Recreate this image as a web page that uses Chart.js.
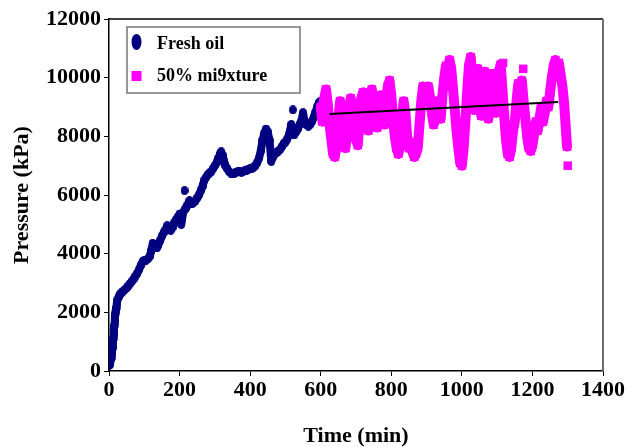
<!DOCTYPE html>
<html><head><meta charset="utf-8">
<script src="https://cdn.jsdelivr.net/npm/chart.js@4"></script>
<style>html,body{margin:0;padding:0;background:#fff}canvas{display:block}</style>
</head><body>
<canvas id="c" width="629" height="447"></canvas>
<script>
// ---- data ----
const freshTime=[0,2,4,6,8,10,11,12,13,14,15,16,17,18,19,20,22,24,27,30,35,40,45,50,55,60,65,70,75,80,85,90,95,100,105,110,115,120,124,128,132,136,140,145,150,155,160,165,170,175,180,185,190,195,200,205,210,214,218,222,228,235,240,245,250,255,260,265,270,275,280,285,290,295,300,305,310,315,318,322,326,330,335,340,345,350,355,360,365,370,375,380,385,390,395,400,405,410,415,420,425,430,435,440,445,450,455,460,465,470,475,480,485,490,495,500,505,510,515,517,520,525,530,535,540,545,550,555,560,565,570,575,580,585,590,595,600];
const freshP=[200,220,300,440,600,800,950,1100,1250,1400,1550,1700,1850,1950,2050,2150,2300,2420,2520,2600,2660,2720,2780,2830,2900,2980,3060,3140,3230,3330,3450,3600,3720,3770,3780,3820,3900,4100,4350,4300,4200,4200,4300,4450,4600,4720,4800,4950,4900,4800,4900,5050,5150,5250,5350,5000,5400,5500,5550,5650,5800,5700,5750,5800,5900,6000,6150,6300,6500,6600,6700,6750,6800,6900,7000,7100,7250,7400,7470,7350,7150,7000,6900,6800,6750,6720,6750,6780,6800,6800,6780,6800,6820,6850,6880,6900,6920,6950,7000,7100,7250,7500,7850,8100,8250,8150,7850,7150,7300,7400,7450,7500,7550,7650,7750,7800,7900,8050,8300,8400,8150,8050,8150,8250,8400,8500,8800,8450,8400,8350,8400,8500,8650,8800,9000,9150,9200];
const freshIsoTime=[214,521];
const freshIsoP=[6150,8900];

const mixTime=[600,605,610,615,620,625,630,635,640,645,650,655,660,665,670,675,680,685,690,695,700,705,710,715,720,725,730,735,740,745,750,755,760,765,770,775,780,785,790,795,800,805,810,815,820,825,830,835,840,845,850,855,860,865,870,875,880,885,890,895,900,905,910,915,920,925,930,935,940,945,950,955,960,965,970,975,980,985,990,995,1000,1005,1010,1015,1020,1025,1030,1035,1040,1045,1050,1055,1060,1065,1070,1075,1080,1085,1090,1095,1100,1105,1110,1115,1120,1125,1130,1135,1140,1145,1150,1155,1160,1165,1170,1175,1180,1185,1190,1195,1200,1205,1210,1215,1220,1225,1230,1235,1240,1245,1250,1255,1260,1265,1270,1275,1280,1285,1290,1295,1298];
const mixP=[9000,8500,9300,9600,9100,8400,7900,7400,7300,7700,8600,9200,8800,8000,7600,8100,8800,9300,9000,8500,7900,7700,8500,9300,9500,9000,8600,8200,8800,9600,9200,8700,8300,8900,9400,8800,8400,9000,9700,9900,9400,8600,8000,7600,7400,7700,8500,9200,8800,8000,7600,7800,7500,7300,7400,7600,8400,9200,9700,9400,9600,9700,9300,8800,8400,8600,9200,9000,8600,9400,10000,10400,10200,10600,10300,9600,8900,8200,7600,7100,7000,7600,8500,9500,10400,10700,9800,8900,9900,10300,9200,8700,9800,10200,9300,8600,9600,10100,9400,8800,9700,10200,10450,9600,8700,7900,7400,7300,7600,8200,8500,9200,9800,9400,9900,9200,8600,8000,7600,7500,7700,8100,8500,8200,8600,9000,8500,8800,9200,9000,9500,10000,10400,10600,10300,10500,10100,9700,9100,8200,7650];
const mixIsoTime=[1057,1080,1117,1174,1300];
const mixIsoP=[10200,10150,10500,10300,7000];

const trendTime=[625,1273];
const trendP=[8760,9170];

const xTicks=[0,200,400,600,800,1000,1200,1400];
const yTicks=[0,2000,4000,6000,8000,10000,12000];
const labels=["Fresh oil","50% mi9xture"];
const xTitle="Time (min)";
const yTitle="Pressure (kPa)";

// ---- chart ----
const NAVY='#000080', MAG='#FF00FF';
const FAM='"Liberation Serif","Times New Roman",serif';
function ellipseCanvas(w,h,color){const c=document.createElement('canvas');c.width=w;c.height=h;const g=c.getContext('2d');g.fillStyle=color;g.beginPath();g.ellipse(w/2,h/2,w/2,h/2,0,0,Math.PI*2);g.fill();return c;}
const dot=ellipseCanvas(8,9,NAVY);
const pts=(t,p)=>t.map((x,i)=>({x:x,y:p[i]}));

const framePlugin={id:'frame',beforeDatasetsDraw(chart){const a=chart.chartArea,ctx=chart.ctx;ctx.save();
  ctx.strokeStyle='#000';ctx.lineWidth=1.5;ctx.beginPath();ctx.moveTo(a.left,a.top);ctx.lineTo(a.right,a.top);ctx.stroke();
  ctx.strokeStyle='#6e6e6e';ctx.lineWidth=2;ctx.beginPath();ctx.moveTo(a.right,a.top);ctx.lineTo(a.right,a.bottom);ctx.stroke();ctx.restore();}};

const legendPlugin={id:'boxLegend',afterDatasetsDraw(chart){const ctx=chart.ctx;ctx.save();
  ctx.fillStyle='#fff';ctx.fillRect(127,27,173,66);
  ctx.strokeStyle='#777';ctx.lineWidth=1.5;ctx.strokeRect(127,27,173,66);
  ctx.fillStyle=NAVY;ctx.beginPath();ctx.ellipse(136.5,42,5,8,0,0,Math.PI*2);ctx.fill();
  ctx.fillStyle=MAG;ctx.fillRect(131.5,71,10,10);
  ctx.fillStyle='#000';ctx.font='bold 18px '+FAM;ctx.textBaseline='alphabetic';ctx.textAlign='left';
  ctx.fillText(labels[0],157,49);ctx.fillText(labels[1],157,81);ctx.restore();}};

const tickFont={family:FAM,weight:'bold',size:22};
new Chart(document.getElementById('c'),{
  type:'scatter',
  data:{datasets:[
    {label:'trend',type:'line',data:pts(trendTime,trendP),borderColor:'#000',borderWidth:2,pointRadius:0,fill:false,order:0},
    {label:labels[1]+' iso',data:pts(mixIsoTime,mixIsoP),pointStyle:'rect',pointRadius:6,backgroundColor:MAG,borderWidth:0,order:1},
    {label:labels[1],data:pts(mixTime,mixP),showLine:true,borderColor:MAG,borderWidth:10,borderJoinStyle:'round',borderCapStyle:'round',pointStyle:'rect',pointRadius:6,backgroundColor:MAG,pointBorderWidth:0,order:2},
    {label:labels[0]+' iso',data:pts(freshIsoTime,freshIsoP),pointStyle:dot,order:3},
    {label:labels[0],data:pts(freshTime,freshP),showLine:true,borderColor:NAVY,borderWidth:8,borderJoinStyle:'round',borderCapStyle:'round',pointStyle:dot,order:4}
  ]},
  options:{
    responsive:false,animation:false,devicePixelRatio:1,
    layout:{padding:{left:0,right:26,top:19,bottom:0}},
    plugins:{legend:{display:false},tooltip:{enabled:false}},
    scales:{
      x:{type:'linear',min:0,max:1400,
        afterBuildTicks:s=>{s.ticks=xTicks.map(v=>({value:v}));},
        afterFit:s=>{s.height=76;},
        ticks:{font:tickFont,color:'#000',padding:1,maxRotation:0,callback:v=>String(v)},
        grid:{drawOnChartArea:false,drawTicks:true,tickLength:5,color:'#000',lineWidth:1},
        border:{display:true,color:'#000',width:1.5},
        title:{display:true,text:xTitle,color:'#000',font:{family:FAM,weight:'bold',size:22,lineHeight:1},padding:{top:0,bottom:0}}},
      y:{type:'linear',min:0,max:12000,
        afterBuildTicks:s=>{s.ticks=yTicks.map(v=>({value:v}));},
        afterFit:s=>{s.width=109;},
        ticks:{font:tickFont,color:'#000',padding:3,callback:v=>String(v)},
        grid:{drawOnChartArea:false,drawTicks:true,tickLength:5,color:'#000',lineWidth:1},
        border:{display:true,color:'#000',width:1.5},
        title:{display:true,text:yTitle,color:'#000',font:{family:FAM,weight:'bold',size:22,lineHeight:1},padding:{top:11,bottom:0}}}
    }
  },
  plugins:[framePlugin,legendPlugin]
});
</script>
</body></html>
